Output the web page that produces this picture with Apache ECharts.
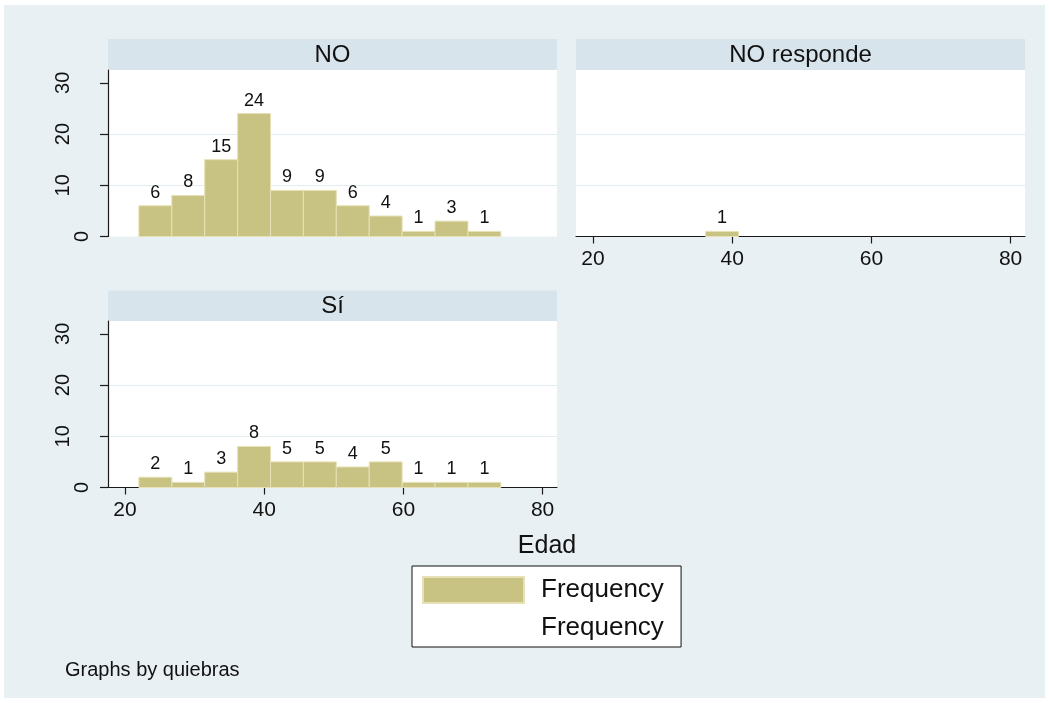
<!DOCTYPE html>
<html>
<head>
<meta charset="utf-8">
<script src="https://cdn.jsdelivr.net/npm/echarts@6/dist/echarts.min.js"></script>
<style>
  html, body { margin: 0; padding: 0; background: #ffffff; }
  #chart {
    width: 1049px; height: 703px;
    background: #e9f0f3;
    box-shadow: inset 4px 5px 0 #ffffff, inset -4px -5px 0 #ffffff;
  }
</style>
</head>
<body>
<div id="chart"></div>
<script>
// ---- data ----
const panelTitles = ['NO', 'NO responde', 'Sí'];
const binEdges = [22, 26.727, 31.455, 36.182, 40.909, 45.636, 50.364, 55.091, 59.818, 64.545, 69.273, 74];
const countsNO = [6, 8, 15, 24, 9, 9, 6, 4, 1, 3, 1];
const countsNOresponde = [0, 0, 0, 1, 0, 0, 0, 0, 0, 0, 0];
const countsSi = [2, 1, 3, 8, 5, 5, 4, 5, 1, 1, 1];
const xTicks = [20, 40, 60, 80];
const yTicks = [0, 10, 20, 30];
const xTitle = 'Edad';
const legendLabels = ['Frequency', 'Frequency'];
const noteText = 'Graphs by quiebras';

// ---- style ----
const FONT = 'Liberation Sans, Arial, Helvetica, sans-serif';
const barColor = '#c9c383';
const barEdge = '#e6e1b6';
const stripColor = '#d8e4eb';
const gridColor = '#e3ecf0';
const axisColor = '#1a1a1a';
const X_MIN = 17.56, X_MAX = 82.07, Y_MAX = 32.5;

const grids = [
  { left: 108, top: 70, width: 449, height: 166.5 },
  { left: 576, top: 70, width: 449, height: 166.5 },
  { left: 108, top: 321, width: 449, height: 166.5 }
];
const strips = [
  { x: 108, y: 39, w: 449, h: 31 },
  { x: 576, y: 39, w: 449, h: 31 },
  { x: 108, y: 290.5, w: 449, h: 30.5 }
];

function binData(counts) {
  return counts.map((c, i) => [binEdges[i], binEdges[i + 1], c]);
}

function renderBar(params, api) {
  const c = api.value(2);
  if (!c) return null;
  const p0 = api.coord([api.value(0), c]);
  const p1 = api.coord([api.value(1), 0]);
  return {
    type: 'group',
    children: [
      {
        type: 'rect',
        shape: { x: p0[0], y: p0[1], width: p1[0] - p0[0], height: p1[1] - p0[1] },
        style: { fill: barColor, stroke: barEdge, lineWidth: 1 }
      },
      {
        type: 'text',
        style: {
          text: String(c),
          x: (p0[0] + p1[0]) / 2,
          y: p0[1] - 4,
          align: 'center',
          verticalAlign: 'bottom',
          fill: '#111',
          font: '18px ' + FONT
        }
      }
    ]
  };
}

const splitColors = ['rgba(0,0,0,0)', gridColor, gridColor, 'rgba(0,0,0,0)', 'rgba(0,0,0,0)'];

function xAxisFor(i, showAxis) {
  return {
    type: 'value', gridIndex: i, min: X_MIN, max: X_MAX,
    axisLine: { show: showAxis, onZero: false, lineStyle: { color: axisColor, width: 1.2 } },
    axisTick: { show: showAxis, customValues: xTicks, length: 7, lineStyle: { color: axisColor, width: 1.2 } },
    axisLabel: { show: showAxis, customValues: xTicks, margin: 12, fontSize: 21, fontFamily: FONT, color: '#111' },
    splitLine: { show: false }
  };
}
function yAxisFor(i, showAxis) {
  return {
    type: 'value', gridIndex: i, min: 0, max: Y_MAX, interval: 10,
    axisLine: { show: showAxis, lineStyle: { color: axisColor, width: 1.2 } },
    axisTick: { show: showAxis, customValues: yTicks, length: 8, lineStyle: { color: axisColor, width: 1.2 } },
    axisLabel: {
      show: showAxis, customValues: yTicks, rotate: 90, margin: 8,
      formatter: v => (v === 0 ? '{z|0}' : '{n|' + v + '}'),
      rich: {
        n: { fontSize: 20, fontFamily: FONT, color: '#111', lineHeight: 74 },
        z: { fontSize: 20, fontFamily: FONT, color: '#111', lineHeight: 36 }
      }
    },
    splitLine: { show: true, lineStyle: { color: splitColors, width: 1 } }
  };
}

const graphic = [];
strips.forEach((s, i) => {
  graphic.push({ type: 'rect', shape: { x: s.x, y: s.y, width: s.w, height: s.h }, style: { fill: stripColor }, silent: true });
  graphic.push({
    type: 'text', x: s.x + s.w / 2, y: s.y + s.h / 2 + 1,
    style: { text: panelTitles[i], align: 'center', verticalAlign: 'middle', fill: '#111', font: '24px ' + FONT },
    silent: true
  });
});
graphic.push({
  type: 'text', x: 547, y: 546,
  style: { text: xTitle, align: 'center', verticalAlign: 'middle', fill: '#111', font: '25px ' + FONT }
});
graphic.push({
  type: 'text', x: 65, y: 670,
  style: { text: noteText, align: 'left', verticalAlign: 'middle', fill: '#111', font: '20px ' + FONT }
});

const chart = echarts.init(document.getElementById('chart'), null, { renderer: 'canvas' });
chart.setOption({
  backgroundColor: 'transparent',
  animation: false,
  grid: grids.map(g => Object.assign({ show: true, backgroundColor: '#ffffff', borderWidth: 0, containLabel: false }, g)),
  xAxis: [xAxisFor(0, false), xAxisFor(1, true), xAxisFor(2, true)],
  yAxis: [yAxisFor(0, true), yAxisFor(1, false), yAxisFor(2, true)].map((a, i) => {
    if (i === 1) { a.show = true; }
    return a;
  }),
  legend: {
    left: 412, top: 566, orient: 'vertical',
    padding: [10, 10, 6, 10],
    itemWidth: 101, itemHeight: 26, itemGap: 11,
    borderColor: '#111', borderWidth: 1, backgroundColor: '#ffffff',
    textStyle: { fontSize: 26, fontFamily: FONT, color: '#111', padding: [0, 0, 0, 12] },
    data: [
      { name: legendLabels[0], icon: 'rect' },
      { name: legendLabels[1] + ' ', icon: 'none' }
    ],
    selectedMode: false
  },
  graphic: graphic,
  series: [
    { type: 'custom', name: legendLabels[0], xAxisIndex: 0, yAxisIndex: 0, data: binData(countsNO), renderItem: renderBar, encode: { x: [0, 1], y: 2 }, itemStyle: { color: barColor, borderColor: barEdge, borderWidth: 1 } },
    { type: 'custom', name: legendLabels[0], xAxisIndex: 1, yAxisIndex: 1, data: binData(countsNOresponde), renderItem: renderBar, encode: { x: [0, 1], y: 2 }, itemStyle: { color: barColor, borderColor: barEdge, borderWidth: 1 } },
    { type: 'custom', name: legendLabels[0], xAxisIndex: 2, yAxisIndex: 2, data: binData(countsSi), renderItem: renderBar, encode: { x: [0, 1], y: 2 }, itemStyle: { color: barColor, borderColor: barEdge, borderWidth: 1 } },
    { type: 'custom', name: legendLabels[1] + ' ', xAxisIndex: 2, yAxisIndex: 2, data: [], renderItem: () => null, itemStyle: { color: 'rgba(0,0,0,0)' } }
  ]
});
</script>
</body>
</html>
